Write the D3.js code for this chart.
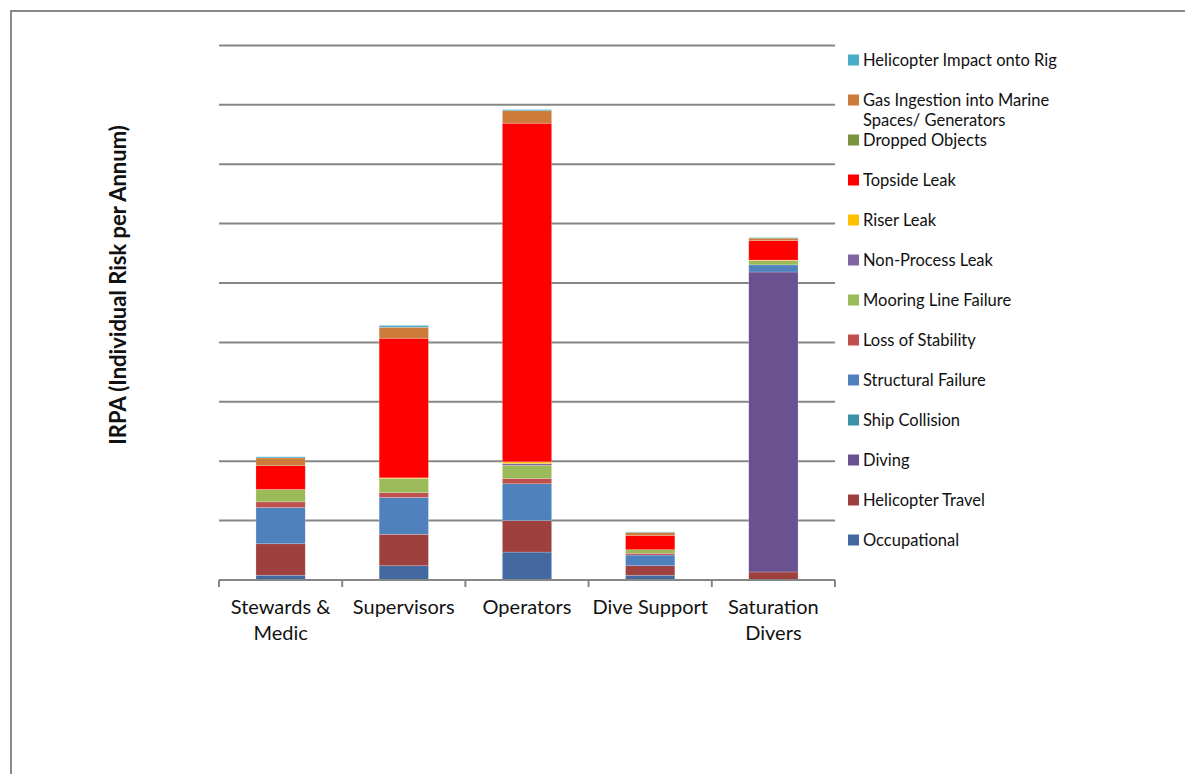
<!DOCTYPE html>
<html>
<head>
<meta charset="utf-8">
<script src="https://cdn.jsdelivr.net/npm/d3@7"></script>
<style>
  body { margin: 0; background: #fff; }
  text { font-family: Lato, "Open Sans", sans-serif; fill: #111; }
</style>
</head>
<body>
<div id="content"></div>
<script>
var width = 1185
var height = 774

// data (one gridline step = 1 unit, no tick labels in the source)
var categories = ["Stewards & Medic", "Supervisors", "Operators", "Dive Support", "Saturation Divers"];
var categoryLines = [["Stewards &", "Medic"], ["Supervisors"], ["Operators"], ["Dive Support"], ["Saturation", "Divers"]];

var seriesNames = [
    "Occupational", "Helicopter Travel", "Diving", "Ship Collision", "Structural Failure",
    "Loss of Stability", "Mooring Line Failure", "Non-Process Leak", "Riser Leak",
    "Topside Leak", "Dropped Objects", "Gas Ingestion into Marine Spaces/ Generators",
    "Helicopter Impact onto Rig"
];
var seriesColors = [
    "#4369a0", "#9e413e", "#6a5190", "#3a91a8", "#4f81bd",
    "#c0504d", "#9bbb59", "#8064a2", "#ffc000",
    "#ff0000", "#77933c", "#cd7b3a", "#4bacc6"
];

var occupational = [0.08, 0.24, 0.47, 0.08, 0];
var helicopterTravel = [0.53, 0.53, 0.53, 0.16, 0.135];
var diving = [0, 0, 0, 0, 5.05];
var shipCollision = [0, 0, 0, 0, 0];
var structuralFailure = [0.61, 0.62, 0.62, 0.18, 0.12];
var lossOfStability = [0.095, 0.08, 0.09, 0.03, 0];
var mooringLineFailure = [0.21, 0.24, 0.22, 0.06, 0.07];
var nonProcessLeak = [0, 0, 0.03, 0, 0];
var riserLeak = [0, 0.01, 0.03, 0, 0.01];
var topsideLeak = [0.40, 2.35, 5.70, 0.24, 0.33];
var droppedObjects = [0, 0, 0, 0, 0];
var gasIngestion = [0.13, 0.185, 0.21, 0.05, 0.04];
var helicopterImpact = [0.02, 0.03, 0.02, 0.01, 0.01];

var seriesValues = [occupational, helicopterTravel, diving, shipCollision, structuralFailure,
    lossOfStability, mooringLineFailure, nonProcessLeak, riserLeak, topsideLeak,
    droppedObjects, gasIngestion, helicopterImpact];

var gridTicks = d3.range(0, 10);

var svg = d3.select("#content").append("svg").attr("width", width).attr("height", height)

// outer frame
svg.append("rect")
    .attr("x", 11).attr("y", 11)
    .attr("width", 1190).attr("height", 780)
    .attr("fill", "none")
    .attr("stroke", "#898989")
    .attr("stroke-width", 2);

var x = d3.scaleBand()
    .domain(categories)
    .range([219, 835])
    .paddingInner(0.6)
    .paddingOuter(0.3);

var y = d3.scaleLinear()
    .domain([0, 9])
    .range([580, 45.4]);

// gridlines
svg.append("g")
    .selectAll("line")
    .data(gridTicks.filter(d => d > 0))
    .enter()
    .append("line")
    .attr("x1", 219)
    .attr("x2", 835)
    .attr("y1", d => y(d))
    .attr("y2", d => y(d))
    .attr("stroke", "#868686")
    .attr("stroke-width", 2);

// stacked bars
var table = categories.map(function (c, i) {
    var row = { category: c };
    seriesNames.forEach(function (s, j) { row[s] = seriesValues[j][i]; });
    return row;
});

var stack = d3.stack().keys(seriesNames);
var layers = stack(table);

svg.append("g")
    .selectAll("g")
    .data(layers)
    .enter()
    .append("g")
    .attr("fill", (d, i) => seriesColors[i])
    .selectAll("rect")
    .data(d => d)
    .enter()
    .append("rect")
    .attr("x", d => x(d.data.category))
    .attr("y", d => y(d[1]))
    .attr("width", x.bandwidth())
    .attr("height", d => y(d[0]) - y(d[1]))
    .attr("stroke", "rgba(255,255,255,0.35)")
    .attr("stroke-width", 0.6);

// x axis baseline with category boundary ticks
var step = x.step();
svg.append("line")
    .attr("x1", 219).attr("x2", 835)
    .attr("y1", 580).attr("y2", 580)
    .attr("stroke", "#868686")
    .attr("stroke-width", 2);

svg.append("g")
    .selectAll("line")
    .data(d3.range(categories.length + 1))
    .enter()
    .append("line")
    .attr("x1", d => 219 + d * step)
    .attr("x2", d => 219 + d * step)
    .attr("y1", 580)
    .attr("y2", 587)
    .attr("stroke", "#868686")
    .attr("stroke-width", 2);

svg.append("g")
    .selectAll("text")
    .data(categories)
    .enter()
    .append("text")
    .attr("x", d => x(d) + x.bandwidth() / 2)
    .attr("y", 614)
    .style("text-anchor", "middle")
    .style("font-size", "20px")
    .each(function (d, i) {
        var t = d3.select(this);
        categoryLines[i].forEach(function (line, k) {
            t.append("tspan")
                .attr("x", x(d) + x.bandwidth() / 2)
                .attr("dy", k === 0 ? 0 : 26)
                .text(line);
        });
    });

// y axis title
svg.append("text")
    .attr("transform", "translate(126, 285) rotate(-90)")
    .style("text-anchor", "middle")
    .style("font-size", "22px")
    .style("font-weight", "bold")
    .text("IRPA (Individual Risk per Annum)");

// legend, top entry first
var legendData = seriesNames.map((s, i) => ({ name: s, color: seriesColors[i] })).reverse();
var legendLines = {
    "Gas Ingestion into Marine Spaces/ Generators": ["Gas Ingestion into Marine", "Spaces/ Generators"]
};

var legendItem = svg.append("g")
    .selectAll("g")
    .data(legendData)
    .enter()
    .append("g")
    .attr("transform", (d, i) => `translate(848, ${60 + i * 40})`);

legendItem.append("rect")
    .attr("x", 0)
    .attr("y", -5.5)
    .attr("width", 11)
    .attr("height", 11)
    .attr("fill", d => d.color);

legendItem.append("text")
    .attr("x", 15)
    .attr("y", 6)
    .style("font-size", "16.5px")
    .each(function (d) {
        var t = d3.select(this);
        var lines = legendLines[d.name] || [d.name];
        lines.forEach(function (line, k) {
            t.append("tspan")
                .attr("x", 15)
                .attr("dy", k === 0 ? 0 : 20)
                .text(line);
        });
    });
</script>
</body>
</html>
